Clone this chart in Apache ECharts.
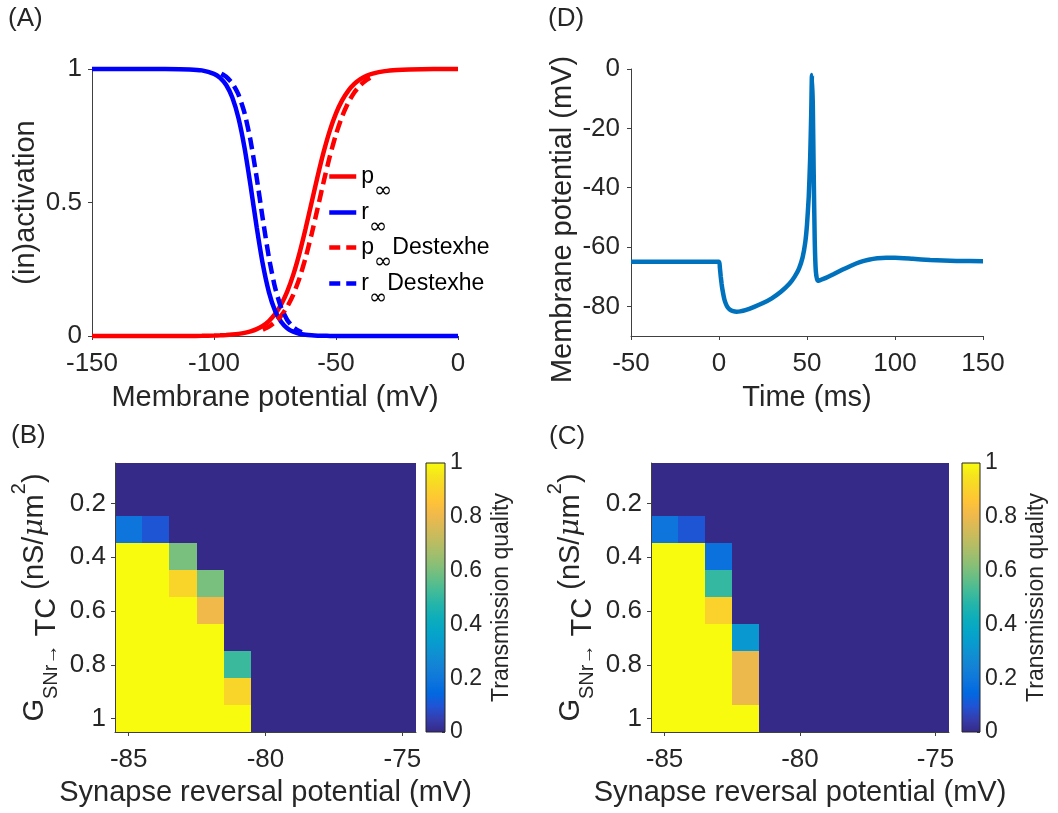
<!DOCTYPE html>
<html>
<head>
<meta charset="utf-8">
<script src="https://cdn.jsdelivr.net/npm/echarts@6/dist/echarts.min.js"></script>
<style>
  html, body { margin: 0; padding: 0; background: #ffffff; }
  #chart { width: 1058px; height: 813px; }
</style>
</head>
<body>
<div id="chart"></div>
<script>
// ---- (A) steady-state activation / inactivation of the T-current ----
const vGrid = [-150, -140, -130, -120, -110, -105, -100, -97.5, -95, -92.5, -90, -87.5, -85, -82.5, -80,
  -77.5, -75, -72.5, -70, -67.5, -65, -62.5, -60, -57.5, -55, -52.5, -50, -47.5, -45, -42.5, -40,
  -37.5, -35, -30, -25, -20, -10, 0];
const pInf = [0.0000, 0.0000, 0.0000, 0.0001, 0.0003, 0.0007, 0.0016, 0.0024, 0.0035, 0.0053, 0.0079,
  0.0117, 0.0174, 0.0258, 0.0382, 0.0561, 0.0817, 0.1175, 0.1662, 0.2297, 0.3086, 0.4005, 0.5000,
  0.5995, 0.6914, 0.7703, 0.8338, 0.8825, 0.9183, 0.9439, 0.9618, 0.9742, 0.9826, 0.9921, 0.9965,
  0.9984, 0.9997, 0.9999];
const rInf = [1.0000, 1.0000, 1.0000, 0.9999, 0.9985, 0.9948, 0.9820, 0.9669, 0.9399, 0.8933, 0.8176,
  0.7058, 0.5622, 0.4073, 0.2689, 0.1645, 0.0953, 0.0534, 0.0293, 0.0159, 0.0086, 0.0046, 0.0025,
  0.0013, 0.0007, 0.0004, 0.0002, 0.0001, 0.0000, 0.0000, 0.0000, 0.0000, 0.0000, 0.0000, 0.0000,
  0.0000, 0.0000, 0.0000];
const vDestexheP = [-80, -77.5, -75, -72.5, -70, -67.5, -65, -62.5, -60, -57.5, -55, -52.5, -50, -47.5,
  -45, -42.5, -40, -37.5, -36];
const pInfDestexhe = [0.0239, 0.0353, 0.0520, 0.0759, 0.1094, 0.1553, 0.2158, 0.2917, 0.3814, 0.4798,
  0.5800, 0.6739, 0.7557, 0.8224, 0.8738, 0.9120, 0.9395, 0.9587, 0.9673];
const vDestexheR = [-97, -95, -92.5, -90, -87.5, -85, -82.5, -80, -77.5, -75, -72.5, -70, -67.5, -65, -64];
const rInfDestexhe = [0.9820, 0.9707, 0.9466, 0.9047, 0.8355, 0.7311, 0.5927, 0.4378, 0.2942, 0.1824,
  0.1067, 0.0601, 0.0331, 0.0180, 0.0141];

// ---- (D) membrane potential response ----
const timeMs = [-50, 0, 0.5, 1, 1.5, 2, 3, 4, 5, 6, 8, 10, 12, 15, 20, 25, 30, 35, 40, 43, 45.5, 47.5,
  49, 50, 51, 51.8, 52.4, 52.8, 53.3, 53.8, 54.4, 55, 56, 60, 65, 70, 75, 80, 85, 90, 95, 100, 110,
  120, 135, 150];
const membraneMv = [-65, -65, -67, -70, -72.5, -74.5, -77.5, -79.3, -80.4, -81.0, -81.6, -81.8, -81.7,
  -81.3, -80.2, -78.9, -77.3, -75.2, -72.4, -70.0, -67.2, -63.5, -58.5, -52.5, -43, -30, -15, -2,
  -12, -35, -58, -68, -71.4, -70.6, -69.2, -67.7, -66.3, -65.1, -64.3, -63.8, -63.6, -63.6, -64.0,
  -64.4, -64.7, -64.8];

// ---- (B), (C) transmission quality maps ----
const reversalMv = ['-85', '-84', '-83', '-82', '-81', '-80', '-79', '-78', '-77', '-76', '-75'];
const conductance = ['0.1', '0.2', '0.3', '0.4', '0.5', '0.6', '0.7', '0.8', '0.9', '1'];
// one row per conductance, one column per reversal potential
const qualityB = [
  [0, 0, 0, 0, 0, 0, 0, 0, 0, 0, 0],
  [0, 0, 0, 0, 0, 0, 0, 0, 0, 0, 0],
  [0.19, 0.1, 0, 0, 0, 0, 0, 0, 0, 0, 0],
  [1, 1, 0.6, 0, 0, 0, 0, 0, 0, 0, 0],
  [1, 1, 0.91, 0.6, 0, 0, 0, 0, 0, 0, 0],
  [1, 1, 1, 0.81, 0, 0, 0, 0, 0, 0, 0],
  [1, 1, 1, 1, 0, 0, 0, 0, 0, 0, 0],
  [1, 1, 1, 1, 0.51, 0, 0, 0, 0, 0, 0],
  [1, 1, 1, 1, 0.91, 0, 0, 0, 0, 0, 0],
  [1, 1, 1, 1, 1, 0, 0, 0, 0, 0, 0]
];
const qualityC = [
  [0, 0, 0, 0, 0, 0, 0, 0, 0, 0, 0],
  [0, 0, 0, 0, 0, 0, 0, 0, 0, 0, 0],
  [0.19, 0.1, 0, 0, 0, 0, 0, 0, 0, 0, 0],
  [1, 1, 0.18, 0, 0, 0, 0, 0, 0, 0, 0],
  [1, 1, 0.5, 0, 0, 0, 0, 0, 0, 0, 0],
  [1, 1, 0.9, 0, 0, 0, 0, 0, 0, 0, 0],
  [1, 1, 1, 0.32, 0, 0, 0, 0, 0, 0, 0],
  [1, 1, 1, 0.8, 0, 0, 0, 0, 0, 0, 0],
  [1, 1, 1, 0.8, 0, 0, 0, 0, 0, 0, 0],
  [1, 1, 1, 1, 0, 0, 0, 0, 0, 0, 0]
];
const qualityRange = [0, 1];

// parula colour map
const parula = ['#352A87', '#353DAD', '#2053D4', '#0268E1', '#0D75DC', '#1481D6', '#108ED2', '#079CCF',
  '#06A7C6', '#0FAEB9', '#25B5A9', '#42BB98', '#65BE86', '#87BF77', '#A5BE6B', '#C0BC60', '#D9BA56',
  '#F1B94A', '#FFC337', '#FAD32A', '#F5E41D', '#F9FB0E'];

// ---- helpers ----
const FONT = 'Liberation Sans, Arial, Helvetica, sans-serif';
const TXT = '#262626';
const AX = '#404040';
const zip = (xs, ys) => xs.map((x, i) => [x, ys[i]]);
const cells = (grid) => {
  const out = [];
  grid.forEach((row, yi) => row.forEach((q, xi) => out.push([xi, yi, q])));
  return out;
};

const axisLine = { show: true, onZero: false, lineStyle: { color: AX, width: 1 } };
const axisTick = { show: true, inside: false, length: 4, lineStyle: { color: AX, width: 1 } };
const tickLabel = (margin, size) => ({ color: TXT, fontFamily: FONT, fontSize: size || 26, margin: margin });
const nameStyle = (extra) => Object.assign({ color: TXT, fontFamily: FONT, fontSize: 29, lineHeight: 32 }, extra || {});

// legend labels with subscript infinity
const legendText = {
  'p∞': '{m|p}{s|∞}',
  'r∞': '{m|r}{s|∞}',
  'p∞ Destexhe': '{m|p}{s|∞}{m|Destexhe}',
  'r∞ Destexhe': '{m|r}{s|∞}{m|Destexhe}'
};
const legendRich = {
  m: { fontFamily: FONT, fontSize: 23, color: '#000', lineHeight: 52, verticalAlign: 'middle' },
  s: { fontFamily: 'DejaVu Sans', fontSize: 22, color: '#000', lineHeight: 24, verticalAlign: 'bottom' }
};
const legendNames = ['p∞', 'r∞', 'p∞ Destexhe', 'r∞ Destexhe'];
const legendColors = ['#FF0000', '#0000FF', '#FF0000', '#0000FF'];
const legendDash = ['solid', 'solid', [11, 6], [11, 6]];
const legendTops = [165, 201, 236, 272];

// rotated y label of the maps
const gLabel = '{g|G}{s|SNr→}{tc| TC }{g|(nS/}{mu|μ}{g|m}{sup|2}{g|)}';
const gRich = {
  g: { fontFamily: FONT, fontSize: 29, color: TXT, lineHeight: 52, verticalAlign: 'middle' },
  tc: { fontFamily: FONT, fontSize: 29, color: TXT, lineHeight: 30, verticalAlign: 'bottom' },
  s: { fontFamily: FONT, fontSize: 20, color: TXT, lineHeight: 24, verticalAlign: 'bottom' },
  sup: { fontFamily: FONT, fontSize: 20, color: TXT, lineHeight: 24, verticalAlign: 'top' },
  mu: { fontFamily: 'DejaVu Serif', fontStyle: 'italic', fontSize: 28, color: TXT, lineHeight: 52, verticalAlign: 'middle' }
};

const barGradient = {
  type: 'linear', x: 0, y: 1, x2: 0, y2: 0,
  colorStops: parula.map((c, i) => ({ offset: i / (parula.length - 1), color: c }))
};

// cells of a quality map, snapped to whole pixels so neighbours meet without seams
const renderCell = (params, api) => {
  const c = api.coord([api.value(0), api.value(1)]);
  const s = api.size([1, 1]);
  const w = Math.abs(s[0]), h = Math.abs(s[1]);
  const x0 = Math.floor(c[0] - w / 2), x1 = Math.ceil(c[0] + w / 2);
  const y0 = Math.floor(c[1] - h / 2), y1 = Math.ceil(c[1] + h / 2);
  return {
    type: 'rect',
    shape: { x: x0, y: y0, width: x1 - x0, height: y1 - y0 },
    style: { fill: api.visual('color') }
  };
};

const mapXAxis = (gridIndex) => ({
  type: 'category', gridIndex: gridIndex, data: reversalMv,
  name: 'Synapse reversal potential (mV)', nameLocation: 'middle', nameGap: 45,
  nameTextStyle: nameStyle(),
  axisLine: axisLine,
  axisTick: Object.assign({}, axisTick, { alignWithLabel: true, interval: (i) => i % 5 === 0 }),
  axisLabel: Object.assign(tickLabel(15), { interval: (i) => i % 5 === 0 }),
  splitLine: { show: false }, z: 3
});
const mapYAxis = (gridIndex) => ({
  type: 'category', gridIndex: gridIndex, data: conductance, inverse: true,
  name: gLabel, nameLocation: 'middle', nameRotate: 90, nameGap: 54,
  nameTextStyle: { rich: gRich, lineHeight: 52 },
  axisLine: axisLine,
  axisTick: Object.assign({}, axisTick, { alignWithLabel: true, interval: (i) => i % 2 === 1 }),
  axisLabel: Object.assign(tickLabel(9), { interval: (i) => i % 2 === 1 }),
  splitLine: { show: false }, z: 3
});
const cbXAxis = (gridIndex) => ({
  type: 'category', gridIndex: gridIndex, data: ['q'], show: false
});
const cbYAxis = (gridIndex) => ({
  type: 'value', gridIndex: gridIndex, position: 'right', min: qualityRange[0], max: qualityRange[1],
  interval: 0.2,
  name: 'Transmission quality', nameLocation: 'middle', nameRotate: 90, nameGap: 43,
  nameTextStyle: { color: TXT, fontFamily: FONT, fontSize: 23, lineHeight: 28 },
  axisLine: { show: false },
  axisTick: { show: true, inside: true, length: 3, lineStyle: { color: AX } },
  axisLabel: tickLabel(5, 23),
  splitLine: { show: false }
});

const option = {
  animation: false,
  backgroundColor: '#ffffff',
  textStyle: { fontFamily: FONT },
  title: [
    { text: '(A)', left: 8, top: 6 },
    { text: '(D)', left: 548, top: 6 },
    { text: '(B)', left: 11, top: 423 },
    { text: '(C)', left: 549, top: 424 }
  ].map(t => Object.assign(t, { padding: 0, textStyle: { fontFamily: FONT, fontSize: 26, fontWeight: 'normal', color: TXT } })),
  legend: legendNames.map((n, i) => ({
    data: [n], left: 327, top: legendTops[i], padding: 0, orient: 'vertical',
    itemWidth: 27, itemHeight: 14, selectedMode: false,
    itemStyle: { color: 'rgba(0,0,0,0)', borderWidth: 0, borderColor: 'rgba(0,0,0,0)' },
    lineStyle: { color: legendColors[i], width: 4.5, type: legendDash[i], cap: 'butt' },
    formatter: (name) => legendText[name],
    textStyle: { rich: legendRich }
  })),
  grid: [
    { left: 92, top: 69, width: 366, height: 267 },
    { left: 631, top: 69, width: 352, height: 267 },
    { left: 115, top: 463, width: 301, height: 269 },
    { left: 426, top: 463, width: 19, height: 269, show: true, z: 5, borderColor: '#262626', borderWidth: 1, backgroundColor: 'transparent' },
    { left: 651, top: 463, width: 298, height: 269 },
    { left: 962, top: 463, width: 18, height: 269, show: true, z: 5, borderColor: '#262626', borderWidth: 1, backgroundColor: 'transparent' }
  ],
  xAxis: [
    {
      type: 'value', gridIndex: 0, min: -150, max: 0, interval: 50,
      name: 'Membrane potential (mV)', nameLocation: 'middle', nameGap: 46, nameTextStyle: nameStyle(),
      axisLine: axisLine, axisTick: axisTick, axisLabel: tickLabel(15), splitLine: { show: false }
    },
    {
      type: 'value', gridIndex: 1, min: -50, max: 150, interval: 50,
      name: 'Time (ms)', nameLocation: 'middle', nameGap: 46, nameTextStyle: nameStyle(),
      axisLine: axisLine, axisTick: axisTick, axisLabel: tickLabel(15), splitLine: { show: false }
    },
    mapXAxis(2), cbXAxis(3), mapXAxis(4), cbXAxis(5)
  ],
  yAxis: [
    {
      type: 'value', gridIndex: 0, min: 0, max: 1, interval: 0.5,
      name: '(in)activation', nameLocation: 'middle', nameRotate: 90, nameGap: 50, nameTextStyle: nameStyle(),
      axisLine: axisLine, axisTick: axisTick, axisLabel: tickLabel(10), splitLine: { show: false }
    },
    {
      type: 'value', gridIndex: 1, min: -90, max: 0,
      name: 'Membrane potential (mV)', nameLocation: 'middle', nameRotate: 90, nameGap: 52,
      nameTextStyle: nameStyle({ padding: [0, 34, 0, 0] }),
      axisLine: axisLine,
      axisTick: Object.assign({}, axisTick, { customValues: [-80, -60, -40, -20, 0] }),
      axisLabel: Object.assign(tickLabel(11), { customValues: [-80, -60, -40, -20, 0] }),
      splitLine: { show: false }
    },
    mapYAxis(2), cbYAxis(3), mapYAxis(4), cbYAxis(5)
  ],
  visualMap: {
    type: 'continuous', show: false, min: qualityRange[0], max: qualityRange[1], dimension: 2,
    seriesIndex: [5, 7], inRange: { color: parula }
  },
  series: [
    {
      name: 'p∞', type: 'line', xAxisIndex: 0, yAxisIndex: 0, data: zip(vGrid, pInf),
      symbol: 'none', smooth: 0.2, clip: false, color: '#FF0000',
      lineStyle: { width: 4.5, color: '#FF0000' }
    },
    {
      name: 'r∞', type: 'line', xAxisIndex: 0, yAxisIndex: 0, data: zip(vGrid, rInf),
      symbol: 'none', smooth: 0.2, clip: false, color: '#0000FF',
      lineStyle: { width: 4.5, color: '#0000FF' }
    },
    {
      name: 'p∞ Destexhe', type: 'line', xAxisIndex: 0, yAxisIndex: 0, data: zip(vDestexheP, pInfDestexhe),
      symbol: 'none', smooth: 0.2, clip: false, color: '#FF0000',
      lineStyle: { width: 4.5, color: '#FF0000', type: [12, 6] }
    },
    {
      name: 'r∞ Destexhe', type: 'line', xAxisIndex: 0, yAxisIndex: 0, data: zip(vDestexheR, rInfDestexhe),
      symbol: 'none', smooth: 0.2, clip: false, color: '#0000FF',
      lineStyle: { width: 4.5, color: '#0000FF', type: [12, 6] }
    },
    {
      name: 'Vm', type: 'line', xAxisIndex: 1, yAxisIndex: 1, data: zip(timeMs, membraneMv),
      symbol: 'none', smooth: 0.15, clip: false, color: '#0072BD',
      lineStyle: { width: 4.5, color: '#0072BD' }
    },
    {
      name: 'quality B', type: 'custom', xAxisIndex: 2, yAxisIndex: 2, data: cells(qualityB),
      encode: { x: 0, y: 1 }, renderItem: renderCell, silent: true, clip: true
    },
    {
      name: 'colorbar B', type: 'bar', xAxisIndex: 3, yAxisIndex: 3, data: [qualityRange[1]],
      barWidth: '100%', silent: true, itemStyle: { color: barGradient }
    },
    {
      name: 'quality C', type: 'custom', xAxisIndex: 4, yAxisIndex: 4, data: cells(qualityC),
      encode: { x: 0, y: 1 }, renderItem: renderCell, silent: true, clip: true
    },
    {
      name: 'colorbar C', type: 'bar', xAxisIndex: 5, yAxisIndex: 5, data: [qualityRange[1]],
      barWidth: '100%', silent: true, itemStyle: { color: barGradient }
    }
  ]
};

const chart = echarts.init(document.getElementById('chart'), null, { renderer: 'canvas' });
chart.setOption(option);
</script>
</body>
</html>
